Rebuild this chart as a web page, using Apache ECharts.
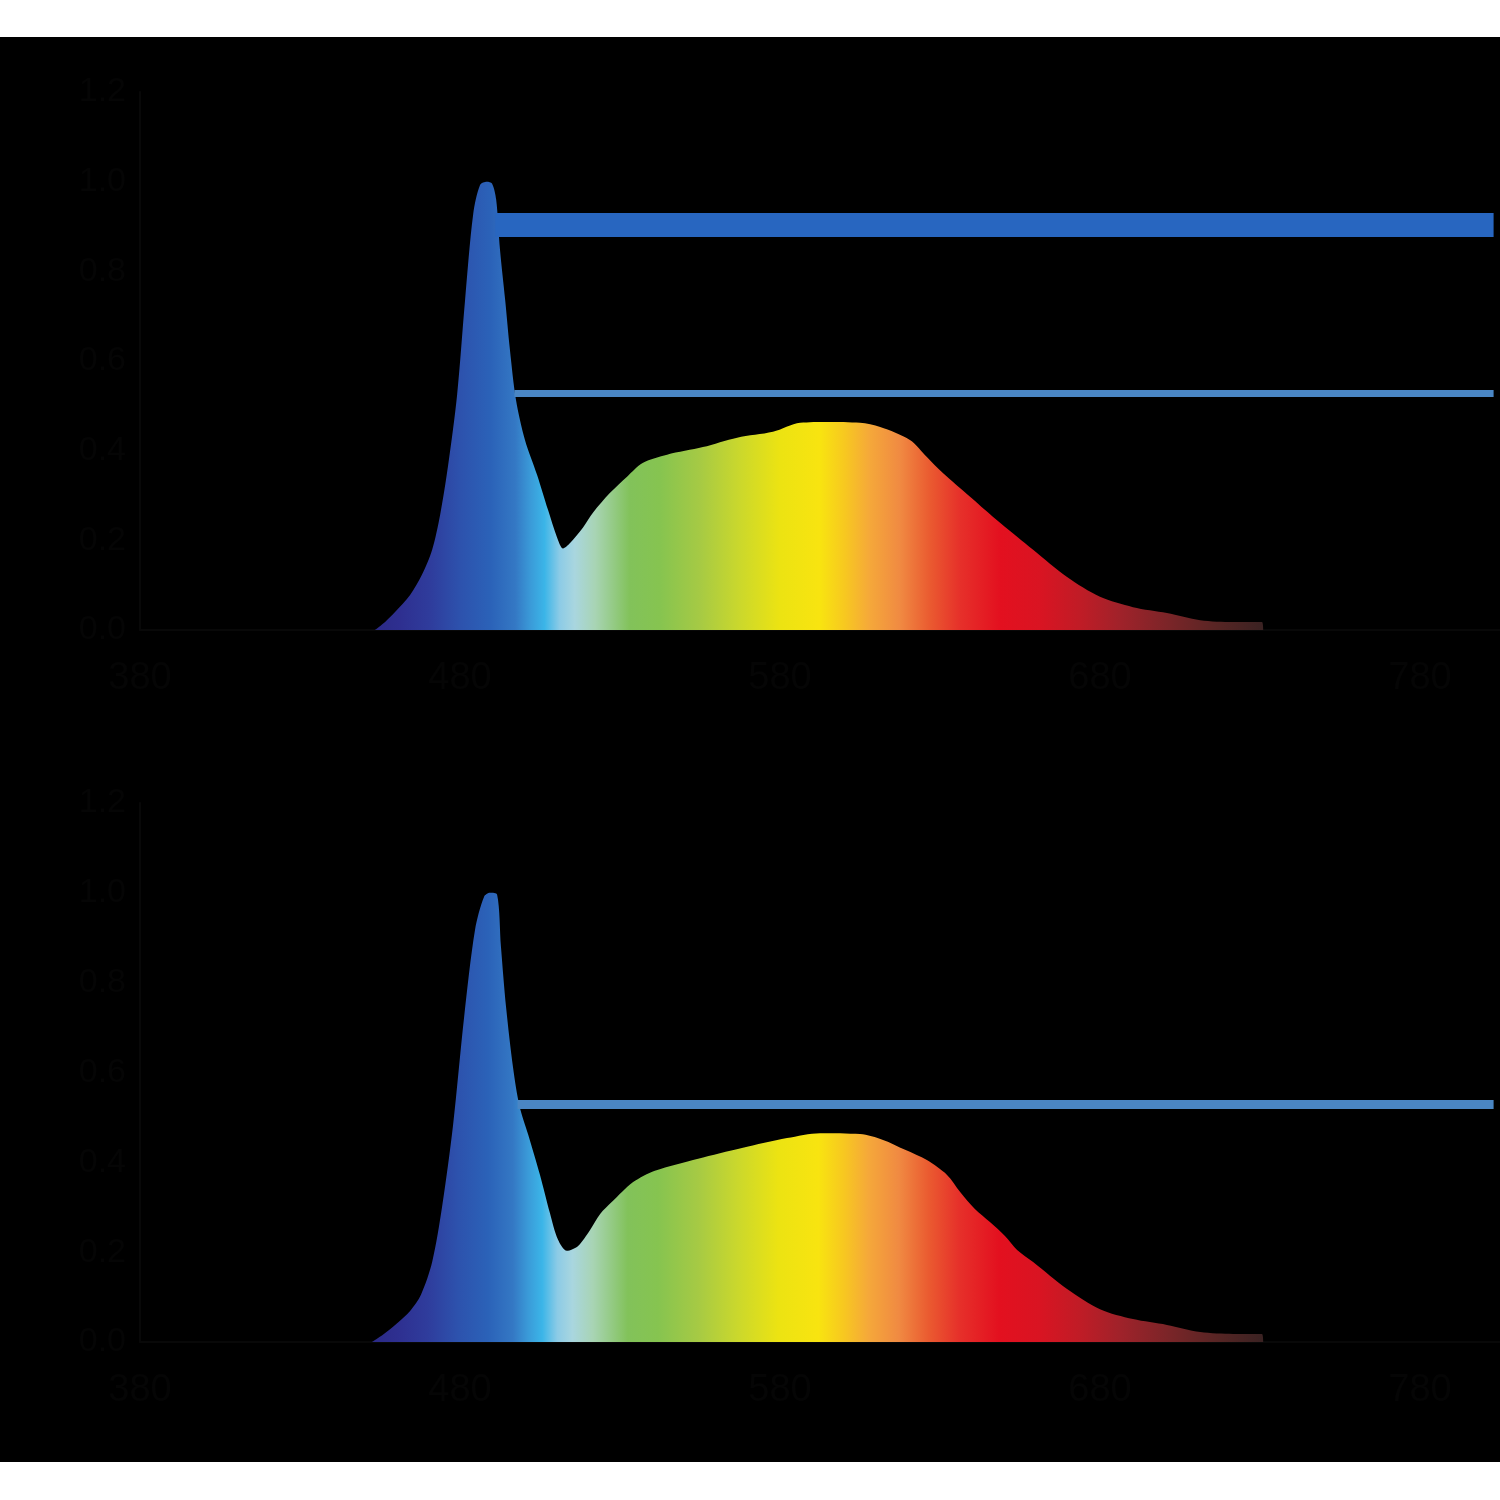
<!DOCTYPE html>
<html>
<head>
<meta charset="utf-8">
<script src="https://cdn.jsdelivr.net/npm/echarts@6/dist/echarts.min.js"></script>
<style>
  html, body { margin: 0; padding: 0; background: #ffffff; }
  #chart { position: absolute; left: 0; top: 37px; width: 1500px; height: 1425px; background: #000000; }
</style>
</head>
<body>
<div id="chart"></div>
<script>
// ---- data (wavelength in nm, relative intensity) ----
const xTicks = [380, 480, 580, 680, 780];
const yTicks = [0, 0.2, 0.4, 0.6, 0.8, 1.0, 1.2];

const topWavelength = [453.4, 456.6, 459.7, 464.4, 468.1, 471.3, 473.8, 476.3, 479.1, 481.6, 484.1, 486.3, 488.4,
  490.0, 491.3, 492.5, 494.1, 495.6, 497.5, 500.3, 504.1, 507.5, 510.3, 512.2, 514.4, 518.4, 521.6, 526.9,
  532.2, 537.2, 544.7, 555.9, 566.6, 577.8, 586.3, 594.7, 605.0, 611.3, 620.6, 625.9, 630.9, 639.4, 646.6,
  654.1, 659.1, 669.7, 680.0, 690.3, 700.9, 711.3, 721.6, 730.6, 731.0];
const topIntensity = [0, 0.018, 0.040, 0.078, 0.123, 0.179, 0.257, 0.368, 0.525, 0.737, 0.926, 0.993, 1.0,
  0.996, 0.960, 0.848, 0.737, 0.625, 0.513, 0.424, 0.346, 0.268, 0.207, 0.182, 0.194, 0.228, 0.262, 0.306,
  0.342, 0.373, 0.391, 0.408, 0.429, 0.442, 0.462, 0.464, 0.462, 0.453, 0.424, 0.386, 0.350, 0.297, 0.252,
  0.208, 0.179, 0.118, 0.074, 0.051, 0.038, 0.022, 0.018, 0.018, 0];

const bottomWavelength = [452.5, 455.9, 460.9, 464.4, 467.8, 471.3, 474.4, 477.8, 481.3, 484.7, 487.5, 489.4,
  491.6, 492.8, 494.4, 496.6, 498.6, 501.3, 505.0, 508.1, 510.6, 513.4, 516.9, 520.6, 523.8, 527.5, 530.6,
  534.1, 540.9, 554.4, 568.1, 582.2, 592.5, 605.0, 612.2, 619.1, 625.9, 632.2, 636.3, 640.9, 645.6, 650.3,
  654.1, 659.1, 669.7, 680.0, 690.3, 700.9, 711.3, 721.6, 730.6, 731.0];
const bottomIntensity = [0, 0.016, 0.045, 0.069, 0.105, 0.178, 0.301, 0.481, 0.724, 0.918, 0.991, 1.0,
  0.996, 0.880, 0.745, 0.610, 0.525, 0.462, 0.372, 0.287, 0.228, 0.203, 0.214, 0.249, 0.285, 0.312, 0.334,
  0.356, 0.381, 0.408, 0.432, 0.454, 0.465, 0.463, 0.450, 0.428, 0.405, 0.372, 0.334, 0.296, 0.267, 0.236,
  0.205, 0.178, 0.118, 0.073, 0.051, 0.038, 0.022, 0.018, 0.018, 0];

// reference bars: [start wavelength, end wavelength, level]
const topBandThick = [491, 803, 0.904];
const topBandThin = [497, 803, 0.529];
const bottomBandThin = [498, 803, 0.530];

// ---- styling ----
const spectrumStops = [
  [0.000, '#2b2a86'], [0.028, '#2e2f90'], [0.062, '#2f3c9c'], [0.096, '#2d52ad'], [0.130, '#2b62b8'],
  [0.158, '#3478c4'], [0.175, '#3a9ad8'], [0.191, '#3bb5e8'], [0.208, '#8ccbe6'], [0.225, '#a9d6df'],
  [0.248, '#a8d4b4'], [0.287, '#82c25a'], [0.321, '#86c450'], [0.366, '#a6ca44'], [0.411, '#cbd82c'],
  [0.456, '#ece312'], [0.501, '#f8e410'], [0.529, '#f7c820'], [0.557, '#f5a83a'], [0.591, '#f08a42'],
  [0.625, '#ea5a30'], [0.659, '#e6302a'], [0.704, '#e3101f'], [0.749, '#d91422'], [0.794, '#c01c26'],
  [0.839, '#a0222a'], [0.895, '#7a2528'], [0.952, '#552524'], [1.000, '#3a2222']
];
function gradient() {
  return new echarts.graphic.LinearGradient(0, 0, 1, 0,
    spectrumStops.map(s => ({ offset: s[0], color: s[1] })));
}
function zip(xs, ys) { return xs.map((x, i) => [x, ys[i]]); }
function bar(b, width, color) {
  return [{ coord: [b[0], b[2]], lineStyle: { width: width, color: color, type: 'solid' } }, { coord: [b[1], b[2]] }];
}

const txt = '#050505';
function xAxisCfg(gi) {
  return {
    type: 'value', gridIndex: gi, min: 380, max: 805, interval: 100,
    axisLine: { show: true, lineStyle: { color: '#080808', width: 2 } },
    axisTick: { show: false },
    splitLine: { show: false },
    axisLabel: { color: txt, fontSize: 38, fontFamily: 'Liberation Sans, Arial', margin: 30, showMaxLabel: false,
      formatter: v => xTicks.indexOf(v) >= 0 ? String(v) : '' }
  };
}
function yAxisCfg(gi) {
  return {
    type: 'value', gridIndex: gi, min: 0, max: 1.2, interval: 0.2,
    axisLine: { show: true, lineStyle: { color: '#080808', width: 2 } },
    axisTick: { show: false },
    splitLine: { show: false },
    axisLabel: { color: txt, fontSize: 34, fontFamily: 'Liberation Sans, Arial', margin: 14,
      formatter: v => yTicks.some(t => Math.abs(t - v) < 1e-6) ? v.toFixed(1) : '' }
  };
}
function spectrumSeries(gi, xs, ys, bands) {
  return {
    type: 'line', xAxisIndex: gi, yAxisIndex: gi,
    data: zip(xs, ys), smooth: 0.3, showSymbol: false, silent: true,
    lineStyle: { width: 0 },
    areaStyle: { color: gradient(), opacity: 1 },
    markLine: { silent: true, symbol: ['none', 'none'], label: { show: false }, animation: false, data: bands }
  };
}

const chart = echarts.init(document.getElementById('chart'), null, { renderer: 'canvas' });
chart.setOption({
  backgroundColor: '#000000',
  animation: false,
  grid: [
    { left: 140, right: 0, top: 55, height: 538 },
    { left: 140, right: 0, top: 766, height: 539 }
  ],
  xAxis: [xAxisCfg(0), xAxisCfg(1)],
  yAxis: [yAxisCfg(0), yAxisCfg(1)],
  series: [
    spectrumSeries(0, topWavelength, topIntensity, [bar(topBandThick, 24, '#2866c0'), bar(topBandThin, 7, '#4a86c4')]),
    spectrumSeries(1, bottomWavelength, bottomIntensity, [bar(bottomBandThin, 9, '#4a86c4')])
  ]
});
</script>
</body>
</html>
